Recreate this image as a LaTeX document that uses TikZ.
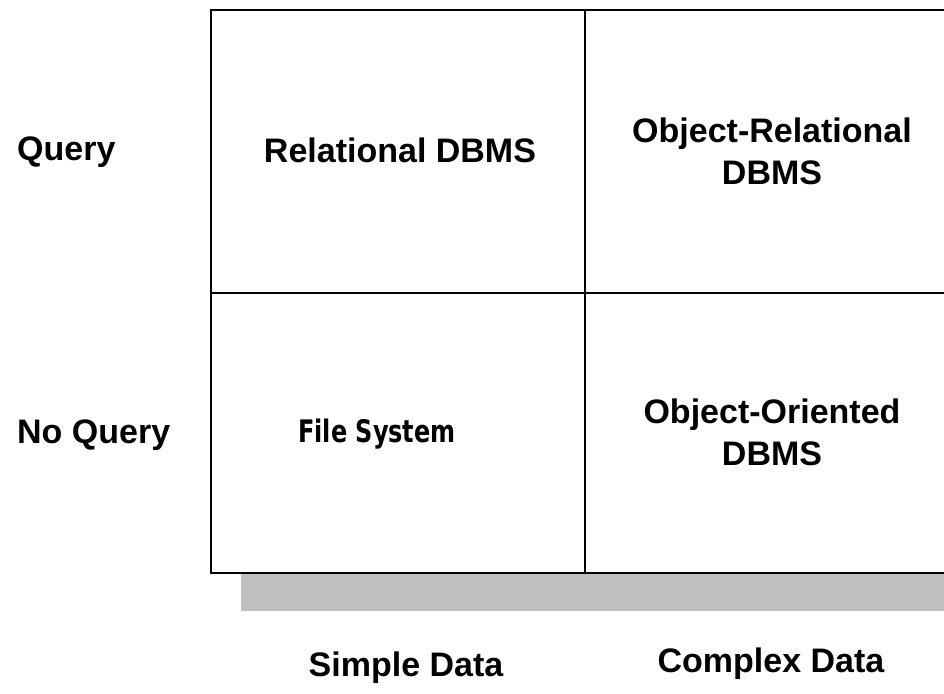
\documentclass[tikz,border=0pt]{standalone}
\usepackage{fontspec}
\setmainfont{Liberation Sans}
\newfontfamily\condfont[FakeStretch=0.86]{DejaVu Sans Condensed}
\begin{document}
\begin{tikzpicture}[x=1pt,y=-1pt,
  label/.style={font=\fontsize{34}{42}\selectfont\bfseries, inner sep=0pt, align=center},
  gridline/.style={line width=2pt, black}]
\useasboundingbox (0,0) rectangle (944,693);
\begin{scope}
\clip (0,0) rectangle (944,693);
% drop shadow under the matrix
\fill[black!25] (241,573) rectangle (970,611);
% the 2x2 matrix
\draw[gridline, fill=white] (211,10) rectangle (960,573);
\draw[gridline] (585,10) -- (585,573);
\draw[gridline] (211,293) -- (960,293);
\end{scope}
% cell texts
\node[label] (rel) at (400,150) {Relational DBMS};
\node[label] (objrel) at (772,151) {Object-Relational\\DBMS};
\node[label, font=\condfont\fontsize{31}{40}\selectfont\bfseries] (fs) at (377,434) {File System};
\node[label] (objor) at (772,432) {Object-Oriented\\DBMS};
% row headings
\node[label, anchor=west] (q) at (17,152) {Query};
\node[label, anchor=west] (nq) at (17,435) {No Query};
% column headings
\node[label] (sd) at (406,668) {Simple Data};
\node[label] (cd) at (771,664) {Complex Data};
\end{tikzpicture}
\end{document}
